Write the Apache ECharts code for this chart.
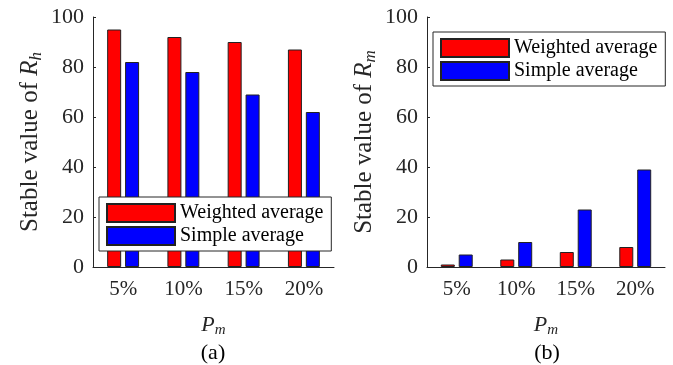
<!DOCTYPE html>
<html>
<head>
<meta charset="utf-8">
<script src="https://cdn.jsdelivr.net/npm/echarts@6/dist/echarts.min.js"></script>
<style>
  html, body { margin: 0; padding: 0; background: #fff; }
  #main { width: 673px; height: 365px; }
</style>
</head>
<body>
<div id="main"></div>
<script>
var categories = ['5%', '10%', '15%', '20%'];
var rhWeighted = [95, 92, 90, 87];
var rhSimple = [82, 78, 69, 62];
var rmWeighted = [1, 3, 6, 8];
var rmSimple = [5, 10, 23, 39];
var yMin = 0, yMax = 100, yStep = 20;

var myChart = echarts.init(document.getElementById('main'));

var font = 'Liberation Serif';
var ink = '#262626';

function yAxisOf(i, sub) {
    return {
        type: 'value', gridIndex: i, min: yMin, max: yMax, interval: yStep,
        name: '{a|Stable value of }{r|R}{s|' + sub + '}',
        nameLocation: 'middle', nameRotate: 90, nameGap: 48,
        nameTextStyle: {
            rich: {
                a: { fontFamily: font, fontSize: 25, color: ink },
                r: { fontFamily: font, fontSize: 25, fontStyle: 'italic', color: ink },
                s: { fontFamily: font, fontSize: 17, fontStyle: 'italic', color: ink, padding: [12, 0, 0, 0] }
            }
        },
        axisLine: { show: true, lineStyle: { color: ink, width: 1 } },
        axisTick: { show: true, inside: true, length: 3, lineStyle: { color: ink } },
        axisLabel: { fontFamily: font, fontSize: 22, color: ink, margin: 9 },
        splitLine: { show: false }
    };
}

function xAxisOf(i) {
    return {
        type: 'category', gridIndex: i, data: categories,
        name: '{p|P}{s|m}', nameLocation: 'middle', nameGap: 46,
        nameTextStyle: {
            rich: {
                p: { fontFamily: font, fontSize: 22, fontStyle: 'italic', color: ink },
                s: { fontFamily: font, fontSize: 15, fontStyle: 'italic', color: ink, padding: [10, 0, 0, 0] }
            }
        },
        axisLine: { show: true, lineStyle: { color: ink, width: 1 } },
        axisTick: { show: false },
        axisLabel: { fontFamily: font, fontSize: 21, color: ink, margin: 12 }
    };
}

function legendOf(left, top) {
    return {
        orient: 'vertical', left: left, top: top,
        data: ['Weighted average', 'Simple average'],
        itemWidth: 68, itemHeight: 18, itemGap: 3,
        padding: [6, 8, 5, 7],
        backgroundColor: '#fff', borderColor: ink, borderWidth: 1,
        textStyle: { fontFamily: font, fontSize: 20, color: '#000' },
        icon: 'rect'
    };
}

function barsOf(i, name, color, values) {
    return {
        name: name, type: 'bar', xAxisIndex: i, yAxisIndex: i,
        data: values, barWidth: 14, barGap: '28%',
        itemStyle: { color: color, borderColor: '#222', borderWidth: 1 }
    };
}

var option = {
    animation: false,
    backgroundColor: '#fff',
    grid: [
        { left: 93, top: 17, width: 241, height: 250 },
        { left: 427, top: 17, width: 238, height: 250 }
    ],
    xAxis: [xAxisOf(0), xAxisOf(1)],
    yAxis: [yAxisOf(0, 'h'), yAxisOf(1, 'm')],
    legend: [legendOf(99, 197), legendOf(433, 32)],
    series: [
        barsOf(0, 'Weighted average', '#ff0000', rhWeighted),
        barsOf(0, 'Simple average', '#0000ff', rhSimple),
        barsOf(1, 'Weighted average', '#ff0000', rmWeighted),
        barsOf(1, 'Simple average', '#0000ff', rmSimple)
    ],
    graphic: [
        { type: 'text', x: 213, y: 353, style: { text: '(a)', font: '22px "Liberation Serif"', fill: '#000', align: 'center', verticalAlign: 'middle' } },
        { type: 'text', x: 547, y: 353, style: { text: '(b)', font: '22px "Liberation Serif"', fill: '#000', align: 'center', verticalAlign: 'middle' } }
    ]
};

myChart.setOption(option);
</script>
</body>
</html>
